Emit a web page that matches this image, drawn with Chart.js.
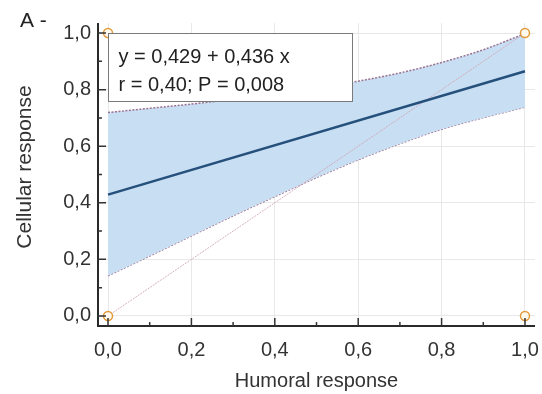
<!DOCTYPE html>
<html><head><meta charset="utf-8">
<script src="https://cdn.jsdelivr.net/npm/chart.js@4/dist/chart.umd.min.js"></script>
<style>html,body{margin:0;padding:0;background:#fff;}canvas{display:block;}</style>
</head><body>
<canvas id="c" width="542" height="394"></canvas>
<script>
// ---- data ----
const bandX     = [0, 0.1, 0.2, 0.3, 0.4, 0.5, 0.6, 0.7, 0.8, 0.9, 1.0];
const bandUpper = [0.719, 0.734, 0.749, 0.766, 0.784, 0.805, 0.830, 0.859, 0.896, 0.941, 0.998];
const bandLower = [0.142, 0.212, 0.283, 0.354, 0.422, 0.489, 0.552, 0.609, 0.660, 0.701, 0.738];
const fitX = [0, 1];
const fitY = [0.429, 0.865];
const identityX = [0, 1];
const identityY = [0, 1];
const obsX = [0, 0, 1, 1];
const obsY = [0, 1, 0, 1];
const tickValues = [0, 0.2, 0.4, 0.6, 0.8, 1.0];
const tickLabels = ['0,0', '0,2', '0,4', '0,6', '0,8', '1,0'];
const equationLines = ['y = 0,429 + 0,436 x', 'r = 0,40; P = 0,008'];
const panelLabel = 'A -';
const xTitle = 'Humoral response';
const yTitle = 'Cellular response';

const FONT = "'Liberation Sans', Arial, sans-serif";
Chart.defaults.font.family = FONT;

const toXY = (xs, ys) => xs.map((x, i) => ({x: x, y: ys[i]}));

const decor = {
  id: 'decor',
  afterDatasetsDraw(chart) {
    const {ctx, chartArea: a, scales: {x, y}} = chart;
    ctx.save();
    // axis lines
    ctx.strokeStyle = '#2a2a2a';
    ctx.lineWidth = 2;
    ctx.beginPath();
    ctx.moveTo(a.left, a.top);
    ctx.lineTo(a.left, a.bottom);
    ctx.lineTo(a.right, a.bottom);
    ctx.stroke();
    // inward ticks
    const minor = [];
    for (let i = 0; i < tickValues.length - 1; i++) minor.push((tickValues[i] + tickValues[i + 1]) / 2);
    ctx.lineWidth = 1.5;
    ctx.strokeStyle = '#333';
    ctx.beginPath();
    tickValues.forEach(v => {
      const px = x.getPixelForValue(v);
      ctx.moveTo(px, a.bottom); ctx.lineTo(px, a.bottom - 8);
      const py = y.getPixelForValue(v);
      ctx.moveTo(a.left - 1, py); ctx.lineTo(a.left + 8, py);
    });
    minor.forEach(v => {
      const px = x.getPixelForValue(v);
      ctx.moveTo(px, a.bottom); ctx.lineTo(px, a.bottom - 4);
      const py = y.getPixelForValue(v);
      ctx.moveTo(a.left, py); ctx.lineTo(a.left + 4, py);
    });
    ctx.stroke();
    // equation box
    const bx = Math.round(x.getPixelForValue(0)) + 0.5;
    const by = Math.round(y.getPixelForValue(1)) + 0.5;
    ctx.fillStyle = '#fff';
    ctx.fillRect(bx, by, 244, 68);
    ctx.strokeStyle = '#7a7a7a';
    ctx.lineWidth = 1;
    ctx.strokeRect(bx, by, 244, 68);
    ctx.fillStyle = '#222';
    ctx.font = '20px ' + FONT;
    ctx.textAlign = 'left';
    ctx.textBaseline = 'alphabetic';
    ctx.fillText(equationLines[0], bx + 10, by + 29);
    ctx.fillText(equationLines[1], bx + 10, by + 57);
    // panel label
    ctx.font = '21px ' + FONT;
    ctx.fillText(panelLabel, 20, 27);
    // y axis title
    ctx.save();
    ctx.translate(25, 167);
    ctx.rotate(-Math.PI / 2);
    ctx.fillStyle = '#333';
    ctx.font = '21px ' + FONT;
    ctx.textAlign = 'center';
    ctx.textBaseline = 'middle';
    ctx.fillText(yTitle, 0, 0);
    ctx.restore();
    ctx.restore();
  }
};

new Chart(document.getElementById('c'), {
  type: 'line',
  data: {
    datasets: [
      {
        label: 'Observations',
        data: toXY(obsX, obsY),
        showLine: false,
        pointRadius: 4.5,
        pointBorderWidth: 1.5,
        pointBorderColor: '#e09a3a',
        pointBackgroundColor: '#fffaf0'
      },
      {
        label: 'Regression',
        data: toXY(fitX, fitY),
        borderColor: '#25507c',
        borderWidth: 2.5,
        pointRadius: 0,
        fill: false
      },
      {
        label: 'Identity',
        data: toXY(identityX, identityY),
        borderColor: 'rgba(208,165,182,0.85)',
        borderWidth: 1,
        borderDash: [2, 1],
        pointRadius: 0,
        fill: false
      },
      {
        label: 'CI upper',
        data: toXY(bandX, bandUpper),
        borderColor: '#9c7290',
        borderWidth: 1.5,
        borderDash: [2, 1.5],
        backgroundColor: 'rgb(200,222,242)',
        fill: '+1',
        pointRadius: 0,
        cubicInterpolationMode: 'monotone'
      },
      {
        label: 'CI lower',
        data: toXY(bandX, bandLower),
        borderColor: '#9c7290',
        borderWidth: 1.5,
        borderDash: [2, 1.5],
        pointRadius: 0,
        fill: false,
        cubicInterpolationMode: 'monotone'
      }
    ]
  },
  options: {
    responsive: false,
    animation: false,
    devicePixelRatio: 1,
    layout: {padding: {top: 23, right: 7, left: 0, bottom: 0}},
    plugins: {legend: {display: false}, tooltip: {enabled: false}},
    scales: {
      x: {
        type: 'linear',
        min: -0.024, max: 1.024,
        afterBuildTicks: s => { s.ticks = tickValues.map(v => ({value: v})); },
        afterFit: s => { s.height = 68; s.paddingLeft = 0; s.paddingRight = 0; },
        grid: {color: '#e8e8e8', lineWidth: 1, drawTicks: false},
        border: {display: false},
        ticks: {
          padding: 12, color: '#333', font: {size: 20},
          autoSkip: false, maxRotation: 0,
          callback: (v, i) => tickLabels[i]
        },
        title: {display: true, text: xTitle, color: '#333', font: {size: 20}, padding: {top: 0, bottom: 1}}
      },
      y: {
        type: 'linear',
        min: -0.0355, max: 1.0355,
        afterBuildTicks: s => { s.ticks = tickValues.map(v => ({value: v})); },
        afterFit: s => { s.width = 98; s.paddingTop = 0; s.paddingBottom = 0; },
        grid: {color: '#e8e8e8', lineWidth: 1, drawTicks: false},
        border: {display: false},
        ticks: {
          padding: 7, color: '#333', font: {size: 20},
          autoSkip: false,
          callback: (v, i) => tickLabels[i]
        },
        title: {display: false}
      }
    }
  },
  plugins: [decor]
});
</script>
</body></html>
